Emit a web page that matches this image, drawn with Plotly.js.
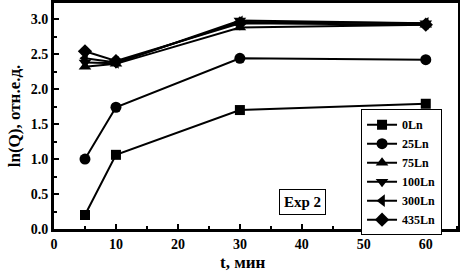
<!DOCTYPE html>
<html><head><meta charset="utf-8">
<script src="https://cdn.plot.ly/plotly-3.0.1.min.js"></script>
<style>body{margin:0;background:#fff}#c{width:460px;height:273px}</style>
</head><body><div id="c"></div>
<script>
const t = [5, 10, 30, 60];
const names = ["0Ln", "25Ln", "75Ln", "100Ln", "300Ln", "435Ln"];
const s0 = [0.20, 1.06, 1.70, 1.79];
const s25 = [1.00, 1.74, 2.44, 2.42];
const s75 = [2.32, 2.36, 2.88, 2.92];
const s100 = [2.38, 2.37, 2.98, 2.94];
const s300 = [2.44, 2.38, 2.96, 2.94];
const s435 = [2.54, 2.40, 2.94, 2.92];
const series = [s0, s25, s75, s100, s300, s435];
const symbols = ["square", "circle", "triangle-up", "triangle-down", "triangle-left", "diamond"];
const sizes = [10, 11, 11, 11, 11, 11];
const F = "Liberation Serif, Times New Roman, serif";
const traces = series.map((y, i) => ({
  x: t, y: y, name: names[i], type: "scatter", mode: "lines+markers",
  line: {color: "#000", width: 2},
  marker: {symbol: symbols[i], size: sizes[i], color: "#000"}
}));
const layout = {
  width: 460, height: 273,
  margin: {l: 54, r: 2, t: 3, b: 44},
  paper_bgcolor: "#fff", plot_bgcolor: "#fff",
  showlegend: true,
  xaxis: {
    range: [0, 65.2], tickvals: [0, 10, 20, 30, 40, 50, 60],
    ticks: "inside", ticklen: 5, tickwidth: 1.5, tickcolor: "#000",
    minor: {dtick: 5, ticks: "inside", ticklen: 3, tickwidth: 1.5, tickcolor: "#000"},
    showgrid: false, zeroline: false,
    showline: true, linewidth: 3, linecolor: "#000", mirror: true,
    tickfont: {family: F, size: 14, color: "#000", weight: "bold"}
  },
  yaxis: {
    range: [0, 3.23], tickvals: [0, 0.5, 1.0, 1.5, 2.0, 2.5, 3.0], tickformat: ".1f",
    ticks: "inside", ticklen: 5, tickwidth: 1.5, tickcolor: "#000",
    minor: {dtick: 0.25, ticks: "inside", ticklen: 3, tickwidth: 1.5, tickcolor: "#000"},
    showgrid: false, zeroline: false,
    showline: true, linewidth: 3, linecolor: "#000", mirror: true,
    tickfont: {family: F, size: 14, color: "#000", weight: "bold"},
    title: {text: "ln(Q), отн.е.д.", font: {family: F, size: 17, color: "#000", weight: "bold"}, standoff: 6}
  },
  legend: {
    x: 0.76, y: 0.53, xanchor: "left", yanchor: "top",
    bgcolor: "#fff", bordercolor: "#000", borderwidth: 1,
    font: {family: F, size: 12, color: "#000", weight: "bold"},
    tracegroupgap: 0, itemwidth: 30
  },
  annotations: [{
    xref: "paper", yref: "paper", x: 0.615, y: 0.12, xanchor: "center", yanchor: "middle",
    text: "Exp 2", showarrow: false,
    font: {family: F, size: 15, color: "#000", weight: "bold"},
    bordercolor: "#000", borderwidth: 1, borderpad: 4, bgcolor: "#fff"
  }, {
    xref: "paper", yref: "paper", x: 0.468, y: -0.148, xanchor: "center", yanchor: "middle",
    text: "t, мин", showarrow: false,
    font: {family: F, size: 17, color: "#000", weight: "bold"}
  }]
};
Plotly.newPlot("c", traces, layout, {displayModeBar: false});
</script></body></html>
